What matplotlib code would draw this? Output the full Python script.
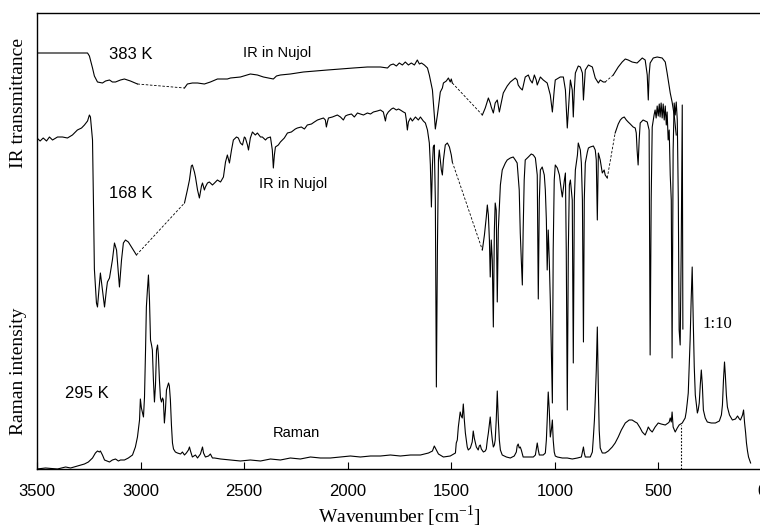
import numpy as np
import matplotlib.pyplot as plt

plt.rcParams['font.family'] = ['Liberation Sans', 'DejaVu Sans']
plt.rcParams['mathtext.fontset'] = 'stix'

# IR spectrum at 383 K (transmittance, arbitrary units)
ir383_wn = [3500, 3256, 3247, 3232, 3223, 3208, 3184, 3169, 3150, 3136, 3121, 3097, 3078, 3049, 3015,
            2788, 2774, 2750, 2725, 2692, 2663, 2629, 2581, 2566, 2518, 2470, 2436, 2407, 2359, 2344,
            2325, 2277, 2214, 2156, 2098, 2035, 1973, 1905, 1842, 1808, 1794, 1780, 1765, 1751, 1736,
            1722, 1707, 1693, 1678, 1664, 1654, 1644, 1630, 1615, 1606, 1591, 1582, 1577, 1567, 1562,
            1553, 1543, 1538, 1524, 1514, 1505, 1500, 1495,
            1350, 1336, 1321, 1312, 1307, 1297, 1288, 1278, 1268, 1249, 1230, 1215, 1191, 1182, 1177,
            1167, 1157, 1143, 1128, 1119, 1109, 1099, 1090, 1085, 1070, 1056, 1037, 1022, 1012, 1003,
            998, 974, 959, 949, 940, 930, 925, 916, 911, 906, 901, 887, 877, 867, 862, 853, 838, 819,
            805, 790, 781, 766, 757,
            718, 694, 675, 660, 646, 627, 603, 588, 578, 564, 554, 549, 545, 540, 525, 506, 482, 467,
            458, 443, 434, 424, 414]
ir383_t = [416, 416, 413, 401, 393, 387, 386, 388, 389, 387, 387, 389, 390, 388, 385,
           381, 385, 386, 386, 385, 387, 390, 390, 391, 392, 395, 394, 392, 390, 393,
           394, 395, 397, 398, 399, 400, 401, 402, 402, 401, 404, 405, 403, 406, 404,
           407, 404, 406, 404, 409, 405, 406, 404, 401, 394, 379, 354, 340, 354, 362,
           377, 381, 386, 388, 391, 387, 390, 386,
           354, 361, 371, 366, 362, 356, 366, 369, 357, 376, 383, 387, 391, 389, 384,
           381, 379, 392, 394, 389, 386, 394, 389, 384, 392, 389, 386, 374, 357, 379,
           389, 392, 392, 379, 341, 374, 389, 379, 352, 379, 396, 403, 402, 396, 369, 399, 404, 402,
           391, 386, 389, 387, 387,
           394, 402, 407, 410, 409, 407, 406, 409, 411, 409, 394, 369, 394, 406, 411, 412, 411, 407,
           396, 376, 367, 354, 334]
ir383_gaps = [3015, 1495, 757]

# IR spectrum at 168 K
ir168_wn = [3500, 3485, 3470, 3454, 3440, 3425, 3401, 3377, 3353, 3329, 3305, 3285, 3271, 3256, 3247,
            3242, 3232, 3227, 3223, 3213, 3208, 3199, 3194, 3184, 3174, 3165, 3160, 3150, 3136, 3126,
            3116, 3102, 3092, 3083, 3073, 3059, 3044, 3020,
            2788, 2774, 2764, 2755, 2750, 2740, 2735, 2725, 2716, 2706, 2701, 2692, 2687, 2677, 2668,
            2653, 2643, 2629, 2614, 2600, 2590, 2581, 2571, 2561, 2552, 2537, 2528, 2518, 2508, 2499,
            2494, 2484, 2479, 2470, 2460, 2446, 2436, 2421, 2412, 2397, 2388, 2373, 2364, 2359, 2354,
            2349, 2335, 2325, 2306, 2291, 2272, 2253, 2243, 2224, 2209, 2195, 2175, 2161, 2146, 2132,
            2117, 2108, 2103, 2098, 2093, 2074, 2050, 2035, 2021, 2011, 2001, 1982, 1968, 1953, 1939,
            1924, 1905, 1890, 1876, 1857, 1842, 1828, 1818, 1813, 1804, 1789, 1780, 1765, 1755, 1746,
            1731, 1722, 1717, 1712, 1707, 1697, 1688, 1673, 1659, 1649, 1635, 1625, 1615, 1606, 1601,
            1596, 1591, 1587, 1582, 1577, 1572, 1567, 1562, 1558, 1548, 1543, 1538, 1529, 1519, 1509,
            1500, 1495,
            1350, 1340, 1331, 1326, 1321, 1316, 1312, 1307, 1302, 1297, 1292, 1288, 1283, 1278, 1273,
            1263, 1254, 1239, 1230, 1215, 1201, 1191, 1182, 1172, 1167, 1162, 1157, 1153, 1148, 1143,
            1128, 1114, 1104, 1094, 1085, 1080, 1075, 1070, 1061, 1051, 1046, 1041, 1037, 1032, 1027,
            1022, 1017, 1012, 1008, 1003, 998, 988, 978, 969, 964, 954, 949, 945, 940, 935,
            930, 925, 916, 911, 906, 901, 891, 887, 877, 872, 867, 862, 858, 853, 843,
            838, 829, 814, 805, 800, 795, 790, 781, 771, 762, 757, 747,
            709, 694, 684, 675, 665, 655, 646, 636, 622, 612, 607, 603, 598, 593, 588,
            574, 564, 554, 545, 540, 535, 530, 521, 516, 511, 506, 501, 496, 492, 487,
            482, 477, 472, 467, 462, 458, 453, 448, 443, 438, 434, 429, 424, 419, 414,
            409, 404, 400, 395, 390, 385, 382]
ir168_t = [331, 328, 331, 328, 332, 329, 332, 332, 331, 334, 339, 341, 344, 348, 354,
           352, 329, 260, 200, 166, 162, 184, 196, 179, 162, 179, 187, 191, 209, 226,
           219, 182, 209, 226, 229, 227, 222, 214,
           266, 279, 289, 303, 304, 297, 292, 279, 271, 283, 286, 279, 282, 286, 287,
           284, 286, 289, 287, 292, 307, 314, 306, 319, 329, 332, 331, 326, 324, 332,
           331, 324, 319, 331, 337, 334, 336, 332, 332, 329, 331, 332, 319, 301, 314,
           322, 324, 327, 331, 336, 337, 340, 341, 342, 340, 344, 345, 347, 349, 350,
           351, 349, 342, 347, 351, 352, 354, 352, 349, 353, 354, 355, 352, 356, 355,
           354, 356, 355, 357, 358, 359, 357, 348, 354, 357, 360, 361, 359, 360, 359,
           357, 356, 349, 339, 347, 351, 348, 352, 349, 352, 348, 346, 339, 326, 304,
           262, 304, 322, 324, 269, 82, 219, 309, 319, 299, 294, 309, 324, 326, 322,
           314, 307,
           219, 234, 252, 264, 254, 229, 192, 229, 209, 142, 239, 266, 259, 167, 239,
           284, 299, 306, 309, 311, 312, 309, 306, 279, 236, 209, 184, 239, 289, 309,
           312, 315, 314, 311, 294, 170, 269, 299, 302, 294, 279, 249, 199, 239, 209,
           169, 119, 66, 219, 289, 304, 301, 294, 279, 272, 289, 296, 219, 59, 219,
           284, 289, 269, 106, 269, 299, 314, 326, 319, 306, 269, 127, 269, 306, 317,
           321, 322, 323, 319, 309, 249, 316, 309, 296, 299, 294, 291,
           336, 345, 349, 351, 352, 349, 347, 345, 342, 341, 336, 319, 304, 329, 346,
           349, 348, 347, 339, 114, 269, 342, 354, 359, 351, 363, 353, 365, 352, 366,
           351, 365, 349, 363, 344, 357, 329, 339, 294, 269, 111, 319, 366, 354, 367,
           349, 269, 139, 124, 219, 364, 140]
ir168_gaps = [3020, 1495, 747]

# Raman spectrum at 295 K (intensity, arbitrary units; below 390 cm-1 scaled 1:10)
raman_wn = [3500, 3459, 3401, 3362, 3338, 3305, 3271, 3252, 3232, 3218, 3208, 3199, 3194, 3184, 3174,
            3150, 3136, 3121, 3107, 3097, 3078, 3059, 3039, 3025, 3015, 3005, 3001, 2996, 2986, 2981,
            2976, 2972, 2967, 2962, 2957, 2952, 2947, 2943, 2938, 2933, 2928, 2923, 2918, 2914, 2909,
            2904, 2899, 2894, 2890, 2885, 2880, 2875, 2865, 2861, 2856, 2851, 2846, 2841, 2832, 2822,
            2807, 2798, 2788, 2779, 2769, 2764, 2759, 2750, 2735, 2725, 2711, 2701, 2696, 2687, 2672,
            2663, 2653, 2643, 2614, 2566, 2518, 2470, 2421, 2373, 2325, 2277, 2229, 2180, 2132, 2084,
            2035, 1987, 1939, 1890, 1842, 1794, 1746, 1697, 1649, 1610, 1591, 1582, 1572, 1562, 1538,
            1505, 1480, 1476, 1471, 1466, 1457, 1452, 1447, 1442, 1437, 1432, 1423, 1418, 1408, 1399,
            1394, 1389, 1379, 1370, 1365, 1360, 1355, 1345, 1336, 1331, 1326, 1321, 1312, 1307, 1302,
            1297, 1292, 1288, 1283, 1278, 1273, 1268, 1263, 1254, 1234, 1215, 1196, 1186, 1182, 1177,
            1172, 1167, 1162, 1153, 1128, 1104, 1094, 1085, 1080, 1075, 1056, 1046, 1041, 1037, 1032,
            1027, 1022, 1017, 1012, 1008, 1003, 998, 988, 964, 940, 916, 891, 872, 867, 862,
            858, 853, 829, 819, 814, 809, 805, 800, 795, 790, 786, 781, 771, 757, 742,
            723, 709, 694, 679, 660, 641, 627, 612, 603, 588, 578, 564, 554, 549, 540,
            530, 516, 501, 487, 467, 453, 448, 443, 438, 434, 429, 419, 409, 400, 385,
            371, 366, 361, 356, 352, 347, 342, 337, 332, 327, 322, 312, 308, 303, 298,
            293, 288, 283, 274, 264, 245, 225, 206, 196, 191, 186, 181, 177, 172, 167,
            157, 143, 128, 118, 109, 104, 94, 89, 84, 79, 75, 70, 65, 55]
raman_i = [0, 1, 0, 2, 1, 3, 5, 7, 11, 16, 18, 17, 18, 14, 9,
           7, 9, 10, 8, 9, 9, 11, 14, 22, 32, 49, 70, 61, 52, 72,
           119, 162, 179, 194, 169, 129, 124, 119, 89, 67, 84, 119, 124, 114, 89,
           71, 67, 71, 69, 46, 59, 79, 86, 83, 69, 44, 26, 20, 17, 16,
           15, 17, 14, 16, 19, 22, 18, 12, 14, 11, 15, 22, 16, 12, 13,
           15, 11, 11, 10, 9, 8, 9, 8, 10, 9, 11, 10, 12, 11, 11,
           12, 13, 12, 13, 13, 14, 13, 14, 14, 16, 18, 23, 19, 15, 12,
           13, 16, 26, 29, 42, 57, 53, 51, 65, 49, 36, 22, 19, 21, 27,
           38, 31, 22, 19, 23, 24, 20, 17, 18, 20, 29, 36, 52, 39, 29,
           22, 24, 29, 49, 78, 49, 29, 19, 14, 12, 11, 13, 17, 23, 25,
           21, 22, 19, 12, 12, 12, 14, 26, 19, 14, 14, 16, 29, 49, 77,
           59, 32, 39, 49, 29, 17, 13, 12, 11, 11, 10, 11, 12, 17, 22,
           16, 12, 12, 17, 32, 49, 69, 99, 142, 79, 39, 21, 16, 16, 18,
           22, 26, 32, 39, 46, 49, 49, 47, 46, 41, 37, 34, 39, 42, 39,
           37, 42, 46, 45, 44, 46, 47, 51, 47, 57, 42, 37, 41, 44, 46,
           51, 57, 66, 76, 99, 129, 169, 202, 149, 102, 74, 56, 59, 66, 84,
           99, 84, 59, 51, 47, 46, 46, 48, 54, 64, 89, 107, 94, 74, 62,
           54, 49, 50, 53, 50, 49, 54, 59, 46, 36, 26, 18, 12, 6]
scale_break_wn = 390

xticks = [3500, 3000, 2500, 2000, 1500, 1000, 500, 0]


def draw_ir(ax, wn, t, gaps):
    wn = np.asarray(wn, float)
    t = np.asarray(t, float)
    starts = [int(np.argmin(np.abs(wn - g))) for g in gaps]
    cuts = [0] + [s + 1 for s in starts] + [len(wn)]
    for a, b in zip(cuts[:-1], cuts[1:]):
        ax.plot(wn[a:b], t[a:b], color='k', lw=0.8)
    for s in starts:
        ax.plot(wn[s:s + 2], t[s:s + 2], color='k', lw=0.6, ls=(0, (3, 2)))


fig = plt.figure(figsize=(7.6, 5.28), dpi=100)
ax = fig.add_axes([37 / 760, 59 / 528, 725 / 760, 456 / 528])

draw_ir(ax, ir383_wn, ir383_t, ir383_gaps)
draw_ir(ax, ir168_wn, ir168_t, ir168_gaps)
ax.plot(raman_wn, raman_i, color='k', lw=0.8)
ax.plot([scale_break_wn, scale_break_wn], [0, 44], color='k', lw=0.8, ls=(0, (1.5, 1.5)))

ax.set_xlim(3500, 0)
ax.set_ylim(0, 456)
ax.set_yticks([])
ax.set_xticks(xticks)
ax.set_xticklabels([str(v) for v in xticks])
ax.tick_params(axis='x', direction='in', length=5, width=0.8, pad=11, labelsize=12)
for s in ax.spines.values():
    s.set_linewidth(1.0)

sans = dict(family=['Liberation Sans', 'DejaVu Sans'], color='k')
ax.text(3049, 410, '383 K', fontsize=12, ha='center', va='baseline', **sans)
ax.text(2339, 412, 'IR in Nujol', fontsize=10.5, ha='center', va='baseline', **sans)
ax.text(3049, 271, '168 K', fontsize=12, ha='center', va='baseline', **sans)
ax.text(2265, 281, 'IR in Nujol', fontsize=10.5, ha='center', va='baseline', **sans)
ax.text(3259, 71, '295 K', fontsize=12, ha='center', va='baseline', **sans)
ax.text(2250, 32, 'Raman', fontsize=10.5, ha='center', va='baseline', **sans)
ax.text(216, 141, '1:10', fontsize=12, ha='center', va='baseline', family='Liberation Serif')

serif = dict(family='Liberation Serif', fontsize=14, transform=ax.transAxes)
ax.text(-0.025, 0.803, 'IR transmittance', rotation=90, ha='center', va='center', **serif)
ax.text(-0.025, 0.215, 'Raman intensity', rotation=90, ha='center', va='center', **serif)
ax.text(0.5, -0.105, 'Wavenumber [cm$^{\\mathregular{-1}}$]', ha='center', va='center', **serif)

fig.savefig('out.png', dpi=100)
